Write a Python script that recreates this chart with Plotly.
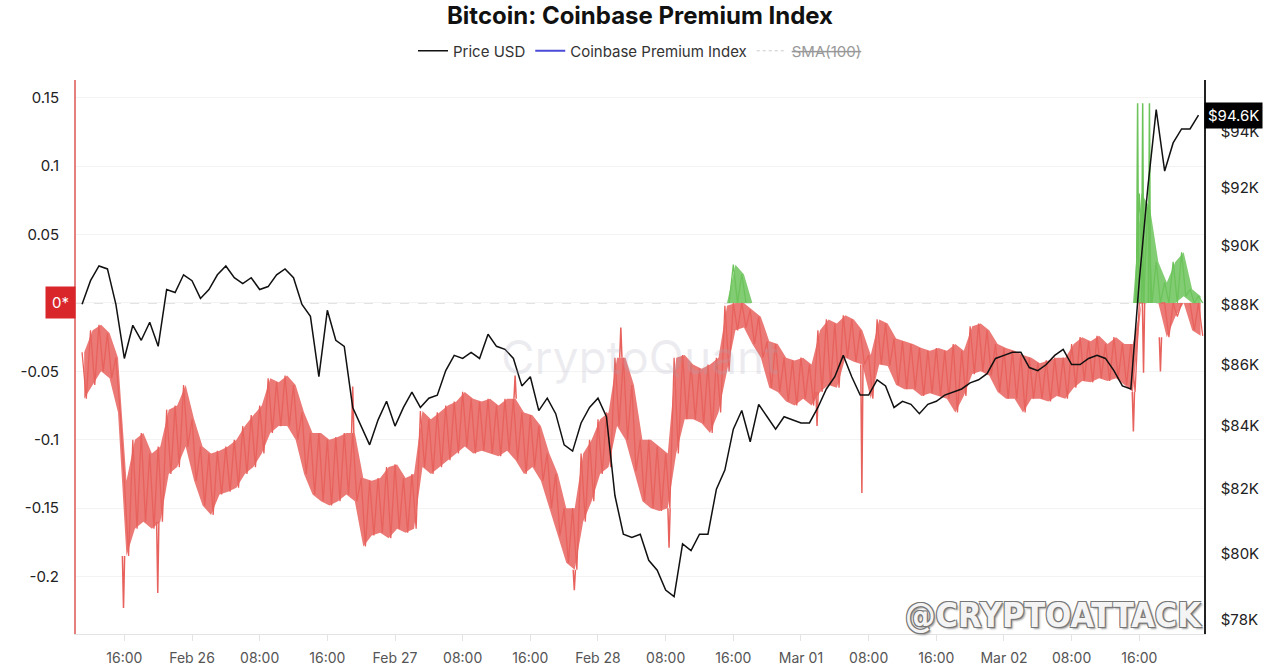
import math
import pandas as pd
import plotly.graph_objects as go

# ---------------- data ----------------
start_time = "2025-02-25 11:00"          # first hourly sample

# BTC price, thousands of USD, hourly
price_k = [
    88.0, 88.8, 89.3, 89.2, 88.0, 86.2, 87.3, 86.8, 87.4, 86.6,
    88.5, 88.4, 89.0, 88.8, 88.2, 88.5, 89.0, 89.3, 88.9, 88.7,
    88.9, 88.5, 88.6, 89.0, 89.2, 88.9, 88.0, 87.6, 85.6, 87.8,
    86.8, 86.6, 84.6, 84.0, 83.4, 84.2, 84.8, 84.0, 84.6, 85.1,
    84.6, 84.9, 85.0, 85.8, 86.3, 86.2, 86.4, 86.2, 87.0, 86.6,
    86.5, 86.2, 85.3, 85.6, 84.5, 84.9, 84.4, 83.4, 83.2, 84.1,
    84.6, 84.9, 84.3, 81.8, 80.6, 80.5, 80.6, 79.8, 79.5, 78.9,
    78.7, 80.3, 80.1, 80.6, 80.6, 82.0, 82.6, 83.9, 84.5, 83.5,
    84.7, 84.3, 83.9, 84.3, 84.2, 84.1, 84.1, 84.6, 85.2, 85.6,
    86.3, 85.6, 85.0, 85.0, 85.5, 85.3, 84.6, 84.8, 84.7, 84.4,
    84.7, 84.8, 85.0, 85.1, 85.2, 85.4, 85.5, 85.7, 86.2, 86.3,
    86.4, 86.4, 85.9, 85.8, 86.0, 86.3, 86.5, 86.0, 86.0, 86.2,
    86.3, 86.2, 85.8, 85.3, 85.2, 88.8, 92.0, 94.8, 92.6, 93.6,
    94.1, 94.1, 94.6,
]

# Coinbase Premium Index: upper / lower edge of the dense band in each hour
prem_hi = [
    -0.036, -0.020, -0.016, -0.022, -0.040, -0.130, -0.100, -0.095, -0.110, -0.105,
    -0.078, -0.075, -0.060, -0.085, -0.105, -0.110, -0.108, -0.105, -0.100, -0.090,
    -0.082, -0.075, -0.055, -0.058, -0.053, -0.060, -0.080, -0.095, -0.095, -0.100,
    -0.098, -0.095, -0.095, -0.128, -0.130, -0.128, -0.120, -0.118, -0.128, -0.125,
    -0.079, -0.085, -0.080, -0.075, -0.072, -0.065, -0.070, -0.072, -0.070, -0.075,
    -0.070, -0.070, -0.080, -0.082, -0.090, -0.110, -0.125, -0.150, -0.150, -0.110,
    -0.100, -0.085, -0.080, -0.040, -0.040, -0.060, -0.100, -0.100, -0.105, -0.110,
    -0.040, -0.038, -0.045, -0.048, -0.045, -0.040, -0.002, 0.028, 0.021, -0.005,
    -0.010, -0.028, -0.030, -0.040, -0.042, -0.040, -0.045, -0.020, -0.012, -0.015,
    -0.009, -0.012, -0.020, -0.038, -0.012, -0.015, -0.026, -0.028, -0.030, -0.033,
    -0.035, -0.033, -0.035, -0.030, -0.035, -0.017, -0.015, -0.020, -0.030, -0.033,
    -0.035, -0.038, -0.040, -0.044, -0.042, -0.040, -0.040, -0.030, -0.025, -0.028,
    -0.024, -0.030, -0.025, -0.030, -0.030, 0.080, 0.070, 0.030, 0.015, 0.030,
    0.037, 0.010, 0.005,
]
prem_lo = [
    -0.070, -0.060, -0.050, -0.055, -0.080, -0.185, -0.165, -0.160, -0.165, -0.160,
    -0.125, -0.120, -0.105, -0.130, -0.148, -0.155, -0.140, -0.138, -0.135, -0.125,
    -0.120, -0.110, -0.095, -0.090, -0.090, -0.100, -0.125, -0.140, -0.145, -0.148,
    -0.145, -0.140, -0.145, -0.178, -0.170, -0.168, -0.172, -0.165, -0.168, -0.165,
    -0.120, -0.125, -0.120, -0.115, -0.110, -0.105, -0.110, -0.108, -0.110, -0.112,
    -0.108, -0.115, -0.125, -0.120, -0.130, -0.150, -0.170, -0.190, -0.195, -0.160,
    -0.145, -0.125, -0.120, -0.090, -0.100, -0.123, -0.145, -0.150, -0.152, -0.150,
    -0.110, -0.085, -0.085, -0.088, -0.095, -0.080, -0.050, -0.020, -0.018, -0.030,
    -0.040, -0.062, -0.065, -0.072, -0.075, -0.070, -0.075, -0.065, -0.060, -0.062,
    -0.040, -0.043, -0.045, -0.070, -0.045, -0.046, -0.060, -0.063, -0.063, -0.068,
    -0.066, -0.068, -0.070, -0.080, -0.068, -0.052, -0.050, -0.053, -0.065, -0.070,
    -0.070, -0.080, -0.070, -0.070, -0.072, -0.068, -0.070, -0.062, -0.057, -0.058,
    -0.055, -0.057, -0.055, -0.060, -0.065, 0.000, 0.000, 0.000, -0.025, -0.010,
    0.005, -0.020, -0.024,
]

# isolated needles (hours after start, value) reaching beyond the band
spike_hours = [4.9, 8.95, 32.0, 51.2, 58.2, 63.7, 69.4, 86.9, 92.2,
               124.3, 124.8, 125.4, 125.5, 126.2, 127.5]
spike_values = [-0.223, -0.212, -0.061, -0.053, -0.210, -0.018, -0.179, -0.090, -0.139,
                -0.094, 0.146, 0.146, -0.051, 0.146, -0.050]

x_tick_start = "2025-02-25 16:00"
x_tick_labels = ["16:00", "Feb 26", "08:00", "16:00", "Feb 27", "08:00", "16:00",
                 "Feb 28", "08:00", "16:00", "Mar 01", "08:00", "16:00", "Mar 02",
                 "08:00", "16:00"]
left_tick_vals = [0.15, 0.1, 0.05, 0, -0.05, -0.1, -0.15, -0.2]
left_tick_text = ["0.15", "0.1", "0.05", "", "-0.05", "-0.1", "-0.15", "-0.2"]
right_tick_vals = [78000, 80000, 82000, 84000, 86000, 88000, 90000, 92000, 94000]
right_tick_text = ["$78K", "$80K", "$82K", "$84K", "$86K", "$88K", "$90K", "$92K", "$94K"]
last_price_label = "$94.6K"

# ---------------- build series ----------------
t0 = pd.Timestamp(start_time)
price_t = [t0 + pd.Timedelta(hours=i) for i in range(len(price_k))]
price_usd = [p * 1000 for p in price_k]

prem_t, prem_v = [], []
for i, (hi, lo) in enumerate(zip(prem_hi, prem_lo)):
    prem_t.append(t0 + pd.Timedelta(hours=i))
    prem_v.append(hi)
    prem_t.append(t0 + pd.Timedelta(hours=i, minutes=30))
    prem_v.append(lo)

n = len(prem_v)
red_y, green_y = [], []
for k, v in enumerate(prem_v):
    prev = prem_v[k - 1] if k > 0 else v
    nxt = prem_v[k + 1] if k < n - 1 else v
    if v <= 0:
        red_y.append(v)
    elif prev < 0 or nxt < 0:
        red_y.append(0.0)
    else:
        red_y.append(None)
    if v >= 0:
        green_y.append(v)
    elif prev > 0 or nxt > 0:
        green_y.append(0.0)
    else:
        green_y.append(None)

band_t = [t0 + pd.Timedelta(hours=i, minutes=15) for i in range(len(prem_hi))]
red_top = [min(h, 0.0) for h in prem_hi]
red_bot = [min(l, 0.0) for l in prem_lo]
green_top = [max(h, 0.0) for h in prem_hi]
green_bot = [max(l, 0.0) for l in prem_lo]

# needles as thin triangles from the band edge
red_sx, red_sy, green_sx, green_sy = [], [], [], []
for h, v in zip(spike_hours, spike_values):
    j = min(int(round(h)), len(prem_hi) - 1)
    t = t0 + pd.Timedelta(hours=h)
    dt = pd.Timedelta(minutes=8)
    if v >= 0:
        base = max(prem_lo[j], 0.0)
        green_sx += [t - dt, t, t + dt, None]
        green_sy += [base, v, base, None]
    else:
        base = prem_hi[j] if v > prem_hi[j] else min(prem_lo[j], 0.0)
        red_sx += [t - dt, t, t + dt, None]
        red_sy += [base, v, base, None]

tick_t0 = pd.Timestamp(x_tick_start)
x_tick_vals = [tick_t0 + pd.Timedelta(hours=8 * k) for k in range(len(x_tick_labels))]

FONT = "Inter, Roboto, 'Noto Sans', sans-serif"
RED = "#e8625d"
GREEN = "#6cc35a"

fig = go.Figure()
fig.add_trace(go.Scatter(x=band_t, y=red_top, mode="lines", line=dict(width=0, color=RED),
                         showlegend=False, hoverinfo="skip"))
fig.add_trace(go.Scatter(x=band_t, y=red_bot, mode="lines", line=dict(width=0, color=RED),
                         fill="tonexty", fillcolor="rgba(232,98,93,0.85)",
                         showlegend=False, hoverinfo="skip"))
fig.add_trace(go.Scatter(x=band_t, y=green_top, mode="lines", line=dict(width=0, color=GREEN),
                         showlegend=False, hoverinfo="skip"))
fig.add_trace(go.Scatter(x=band_t, y=green_bot, mode="lines", line=dict(width=0, color=GREEN),
                         fill="tonexty", fillcolor="rgba(108,195,90,0.85)",
                         showlegend=False, hoverinfo="skip"))
fig.add_trace(go.Scatter(x=prem_t, y=red_y, mode="lines", line=dict(color=RED, width=1.3),
                         showlegend=False, connectgaps=False, hoverinfo="skip"))
fig.add_trace(go.Scatter(x=prem_t, y=green_y, mode="lines", line=dict(color=GREEN, width=1.3),
                         showlegend=False, connectgaps=False, hoverinfo="skip"))
fig.add_trace(go.Scatter(x=red_sx, y=red_sy, mode="lines", line=dict(color=RED, width=1.5),
                         showlegend=False, hoverinfo="skip"))
fig.add_trace(go.Scatter(x=green_sx, y=green_sy, mode="lines", line=dict(color=GREEN, width=1.5),
                         showlegend=False, hoverinfo="skip"))
# legend entries
fig.add_trace(go.Scatter(x=price_t, y=price_usd, mode="lines", name="Price USD", yaxis="y2",
                         line=dict(color="#111111", width=1.5)))
fig.add_trace(go.Scatter(x=[None], y=[None], mode="lines", name="Coinbase Premium Index",
                         line=dict(color="#4b4bd8", width=2)))
fig.add_trace(go.Scatter(x=[None], y=[None], mode="lines", name="<s>SMA(100)</s>",
                         line=dict(color="#999999", width=1, dash="dot"),
                         visible="legendonly"))

x_left = pd.Timestamp("2025-02-25 10:17")
x_right = pd.Timestamp("2025-03-02 23:39")

fig.update_layout(
    width=1280, height=665,
    margin=dict(l=76, r=76, t=80, b=31),
    paper_bgcolor="white", plot_bgcolor="white",
    font=dict(family=FONT, color="#222"),
    title=dict(text="<b>Bitcoin: Coinbase Premium Index</b>", x=0.5, xanchor="center",
               y=1 - 16 / 665, yref="container", yanchor="middle",
               font=dict(size=24, color="#111", family=FONT)),
    legend=dict(orientation="h", x=0.5, xanchor="center", yref="container",
                y=1 - 51 / 665, yanchor="middle", font=dict(size=15, color="#333"),
                itemwidth=30, bgcolor="rgba(0,0,0,0)", traceorder="normal"),
    xaxis=dict(type="date", range=[x_left, x_right], tickvals=x_tick_vals,
               ticktext=x_tick_labels, showgrid=False, zeroline=False,
               showline=True, linecolor="#e3e3e3", linewidth=1, automargin=False,
               ticks="outside", ticklen=6, tickcolor="#e3e3e3", ticklabelstandoff=5,
               tickfont=dict(size=14, color="#555")),
    yaxis=dict(range=[-0.242, 0.163], tickvals=left_tick_vals, ticktext=left_tick_text,
               showgrid=True, gridcolor="#f3f3f3", zeroline=False, automargin=False,
               showline=True, linecolor="#e58080", linewidth=2,
               ticks="", ticklabelstandoff=12, tickfont=dict(size=15, color="#222")),
    yaxis2=dict(overlaying="y", side="right", type="log", automargin=False,
                range=[math.log10(77584), math.log10(95878)],
                tickvals=right_tick_vals, ticktext=right_tick_text,
                showgrid=False, zeroline=False, showline=True,
                linecolor="#222", linewidth=1.5, ticks="", ticklabelstandoff=12,
                tickfont=dict(size=15, color="#222")),
    shapes=[dict(type="line", xref="paper", x0=0, x1=1, yref="y", y0=0, y1=0,
                 line=dict(color="#c4c4c4", width=1, dash="dash"), layer="below")],
    annotations=[
        dict(text="CryptoQuant", xref="paper", yref="paper", x=0.5, y=0.50,
             showarrow=False, font=dict(size=46, color="rgba(170,170,190,0.22)", family=FONT)),
        dict(text="0*", xref="paper", x=0, xanchor="right", yref="y", y=0, yanchor="middle",
             showarrow=False, bgcolor="#d9262b", borderpad=6,
             font=dict(size=15, color="white", family=FONT)),
        dict(text=last_price_label, xref="paper", x=1, xanchor="left", yref="y2",
             y=math.log10(price_usd[-1]), yanchor="middle", showarrow=False,
             bgcolor="#000000", borderpad=3, font=dict(size=15, color="white", family=FONT)),
        dict(text="<b>@CRYPTOATTACK</b>", xref="paper", x=1.0, xanchor="right",
             yref="paper", y=-0.005, yanchor="bottom", showarrow=False,
             font=dict(size=34, color="#f4f4f4",
                       family="'DejaVu Sans Condensed', 'Liberation Sans Narrow', sans-serif",
                       shadow="-1px -1px 0 #777, 1px -1px 0 #777, -1px 1px 0 #777, 1px 1px 0 #777, 2px 2px 2px #999")),
    ],
)

fig.write_html("out.html", config={"displayModeBar": False},
               post_script="document.body.style.margin='0';")
